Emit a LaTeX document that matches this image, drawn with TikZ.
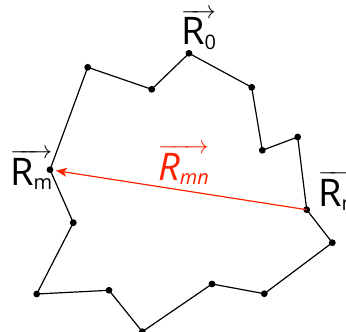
\documentclass[tikz,border=0pt]{standalone}
\usepackage{fontspec}
\setmainfont{Open Sans}
\usetikzlibrary{arrows.meta}
\definecolor{vred}{RGB}{255,34,0}
\newcommand\vlab[2]{$\overrightarrow{\mbox{R}\mbox{\raisebox{-0.12em}{\fontsize{20}{20}\selectfont #1}}}$}
\tikzset{
  lab/.style={anchor=base west, inner sep=0pt, font=\fontsize{38}{40}\selectfont},
  edge/.style={line width=1.2pt, black, line join=round},
  dot/.style={fill=black},
}
\begin{document}
\begin{tikzpicture}[x=1pt,y=-1pt]
\useasboundingbox (0,0) rectangle (346,332);
\coordinate (n0) at (189,53.3);
\coordinate (n1) at (251.7,87.3);
\coordinate (n2) at (262.3,150.3);
\coordinate (n3) at (297.7,137);
\coordinate (n4) at (306.7,209.7);
\coordinate (n5) at (332.3,242.7);
\coordinate (n6) at (264.3,293.7);
\coordinate (n7) at (212,284);
\coordinate (n8) at (142.3,331.7);
\coordinate (n9) at (109,290.3);
\coordinate (n10) at (36.7,294);
\coordinate (n11) at (73.3,222.7);
\coordinate (n12) at (50,169.7);
\coordinate (n13) at (87.7,67.3);
\coordinate (n14) at (151.7,89.3);
\draw[edge] (n0) -- (n1) -- (n2) -- (n3) -- (n4) -- (n5) -- (n6) -- (n7) -- (n8) -- (n9) -- (n10) -- (n11) -- (n12) -- (n13) -- (n14) -- cycle;
\foreach \i in {0,...,14} \fill[dot] (n\i) circle (3.4pt);
\draw[vred, line width=1.2pt, -{Stealth[length=11pt,width=9pt,inset=3pt]}, shorten >=6pt] (n4) -- (n12);
\node[lab] (l0) at (181,45) {\vlab{0}{}};
\node[lab] (lm) at (10,185) {\vlab{m}{}};
\node[lab] (ln) at (318,206) {\vlab{n}{}};
\node[lab, text=vred] (lmn) at (158,180) {\itshape\vlab{mn}{}};
\end{tikzpicture}
\end{document}
